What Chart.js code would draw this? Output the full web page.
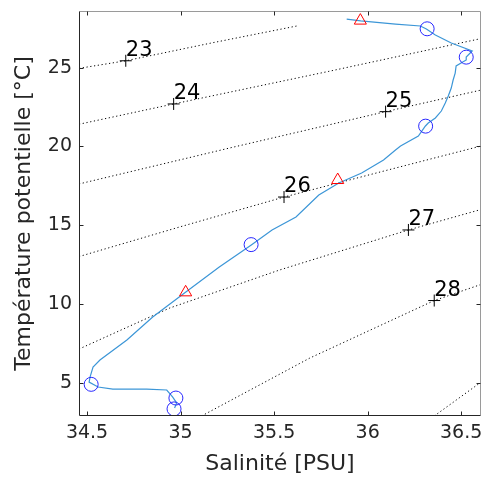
<!DOCTYPE html>
<html>
<head>
<meta charset="utf-8">
<script src="https://cdn.jsdelivr.net/npm/chart.js@4.4.1/dist/chart.umd.min.js"></script>
<style>
  html, body { margin: 0; padding: 0; background: #fff; }
</style>
</head>
<body>
<canvas id="ts" width="489" height="479"></canvas>
<script>
const xTicks = [34.5, 35, 35.5, 36, 36.5];
const yTicks = [5, 10, 15, 20, 25];
const xRange = [34.457, 36.606];
const yRange = [2.89, 28.6];

// isopycnes sigma-theta, points [S, T]
const iso23 = [[34.457, 24.96], [34.707, 25.44], [35.165, 26.57], [35.622, 27.65]];
const iso24 = [[34.457, 21.41], [34.963, 22.70], [35.793, 24.77], [36.606, 26.85]];
const iso25 = [[34.457, 17.62], [35.261, 19.90], [36.096, 22.21], [36.606, 23.58]];
const iso26 = [[34.457, 13.01], [34.995, 14.89], [35.553, 16.79], [36.080, 18.42], [36.606, 20.03]];
const iso27 = [[34.457, 7.14], [34.941, 9.74], [35.527, 12.15], [36.218, 14.70], [36.606, 16.00]];
const iso28 = [[35.112, 2.89], [35.691, 6.57], [36.356, 10.22], [36.606, 11.24]];
const iso29 = [[36.356, 2.89], [36.606, 5.04]];

const isoLabels = ["23", "24", "25", "26", "27", "28"];
const isoMarks = [[34.707, 25.44], [34.963, 22.70], [36.096, 22.21], [35.553, 16.79], [36.218, 14.70], [36.356, 10.22]];

// profil T-S
const profile = [
    [35.888, 28.09], [35.963, 27.97], [36.149, 27.77], [36.282, 27.65], [36.314, 27.46],
    [36.362, 27.08], [36.447, 26.57], [36.559, 26.06], [36.527, 25.68], [36.527, 25.49],
    [36.473, 25.11], [36.468, 24.66], [36.457, 24.22], [36.447, 23.71], [36.431, 23.20],
    [36.415, 22.76], [36.394, 22.25], [36.362, 21.81], [36.324, 21.49], [36.309, 21.30],
    [36.271, 20.66], [36.176, 20.03], [36.149, 19.78], [36.085, 19.14], [35.968, 18.32],
    [35.846, 17.68], [35.739, 16.92], [35.617, 15.52], [35.489, 14.70], [35.378, 13.75],
    [35.207, 12.35], [35.021, 10.70], [34.851, 9.17], [34.713, 7.71], [34.569, 6.44],
    [34.532, 6.00], [34.516, 5.36], [34.511, 5.04], [34.559, 4.73], [34.638, 4.60],
    [34.819, 4.60], [34.926, 4.54], [34.957, 4.10], [34.979, 3.72], [34.968, 3.40]
];
const circles = [[36.318, 27.47], [36.527, 25.67], [36.310, 21.29], [35.377, 13.77], [34.522, 4.90], [34.975, 4.03], [34.965, 3.34]];
const triangles = [[35.961, 27.99], [35.840, 17.87], [35.027, 10.74]];

const FONT = "'DejaVu Sans', sans-serif";
const TEXT = "#262626";

const pts = arr => arr.map(([x, y]) => ({ x, y }));

function isoDataset(arr) {
    return {
        data: pts(arr),
        showLine: true,
        borderColor: "#000",
        borderWidth: 1,
        borderDash: [1.2, 2.6],
        pointRadius: 0,
        order: 5
    };
}

const framePlugin = {
    id: "frame",
    afterDatasetsDraw(chart) {
        const { ctx, chartArea: a, scales: { x, y } } = chart;
        ctx.save();

        ctx.font = "21px " + FONT;
        ctx.fillStyle = "#000";
        ctx.textAlign = "left";
        ctx.textBaseline = "alphabetic";
        isoMarks.forEach((p, i) => {
            ctx.fillText(isoLabels[i], x.getPixelForValue(p[0]), y.getPixelForValue(p[1]) - 5);
        });

        const line = (x1, y1, x2, y2) => {
            ctx.beginPath();
            ctx.moveTo(x1, y1);
            ctx.lineTo(x2, y2);
            ctx.stroke();
        };
        const L = Math.round(a.left) + 0.5, R = Math.round(a.right) - 0.5;
        const T = Math.round(a.top) + 0.5, B = Math.round(a.bottom) - 0.5;

        // cadre
        ctx.lineWidth = 1;
        ctx.strokeStyle = "#9a9a9a";
        line(L, T, R, T);
        line(R, T, R, B);
        ctx.strokeStyle = TEXT;
        line(L, T, L, B);
        line(L, B, R, B);

        // graduations vers l'interieur
        xTicks.forEach(v => {
            const px = Math.round(x.getPixelForValue(v)) + 0.5;
            line(px, B, px, B - 4);
            line(px, T, px, T + 4);
        });
        yTicks.forEach(v => {
            const py = Math.round(y.getPixelForValue(v)) + 0.5;
            line(L, py, L + 4, py);
            line(R, py, R - 4, py);
        });
        ctx.restore();
    }
};

new Chart(document.getElementById("ts"), {
    type: "scatter",
    data: {
        datasets: [
            isoDataset(iso23), isoDataset(iso24), isoDataset(iso25), isoDataset(iso26),
            isoDataset(iso27), isoDataset(iso28), isoDataset(iso29),
            {
                data: pts(profile),
                showLine: true,
                borderColor: "rgb(60, 150, 215)",
                borderWidth: 1.2,
                pointRadius: 0,
                order: 3
            },
            {
                data: pts(isoMarks),
                pointStyle: "cross",
                pointRadius: 6,
                borderColor: "#000",
                borderWidth: 1,
                order: 4
            },
            {
                data: pts(circles),
                pointStyle: "circle",
                pointRadius: 7,
                borderColor: "rgb(40, 40, 255)",
                backgroundColor: "rgba(0,0,0,0)",
                borderWidth: 1,
                order: 1
            },
            {
                data: pts(triangles),
                pointStyle: "triangle",
                pointRadius: 7,
                borderColor: "rgb(255, 0, 0)",
                backgroundColor: "rgba(0,0,0,0)",
                borderWidth: 1,
                order: 1
            }
        ]
    },
    options: {
        responsive: false,
        animation: false,
        events: [],
        layout: { padding: { top: 11, right: 6, left: 0, bottom: 0 } },
        plugins: {
            legend: { display: false },
            tooltip: { enabled: false }
        },
        scales: {
            x: {
                type: "linear",
                min: xRange[0],
                max: xRange[1],
                afterBuildTicks: s => { s.ticks = xTicks.map(v => ({ value: v })); },
                afterFit: s => {
                    s.height = 63;
                    s.paddingLeft = 0;
                    s.paddingRight = 0;
                },
                grid: { display: false, drawTicks: false },
                border: { display: false },
                ticks: {
                    autoSkip: false,
                    maxRotation: 0,
                    padding: 6,
                    color: TEXT,
                    font: { family: FONT, size: 19 },
                    callback: v => String(v)
                },
                title: {
                    display: true,
                    text: "Salinité [PSU]",
                    color: TEXT,
                    font: { family: FONT, size: 22 },
                    padding: { top: 0, bottom: 2 }
                }
            },
            y: {
                type: "linear",
                min: yRange[0],
                max: yRange[1],
                afterBuildTicks: s => { s.ticks = yTicks.map(v => ({ value: v })); },
                afterFit: s => {
                    s.width = 79;
                    s.paddingTop = 0;
                    s.paddingBottom = 0;
                },
                grid: { display: false, drawTicks: false },
                border: { display: false },
                ticks: {
                    autoSkip: false,
                    padding: 7,
                    color: TEXT,
                    font: { family: FONT, size: 19 },
                    callback: v => String(v)
                },
                title: {
                    display: true,
                    text: "Température potentielle [°C]",
                    color: TEXT,
                    font: { family: FONT, size: 22 },
                    padding: { top: 11, bottom: 0 }
                }
            }
        }
    },
    plugins: [framePlugin]
});
</script>
</body>
</html>
